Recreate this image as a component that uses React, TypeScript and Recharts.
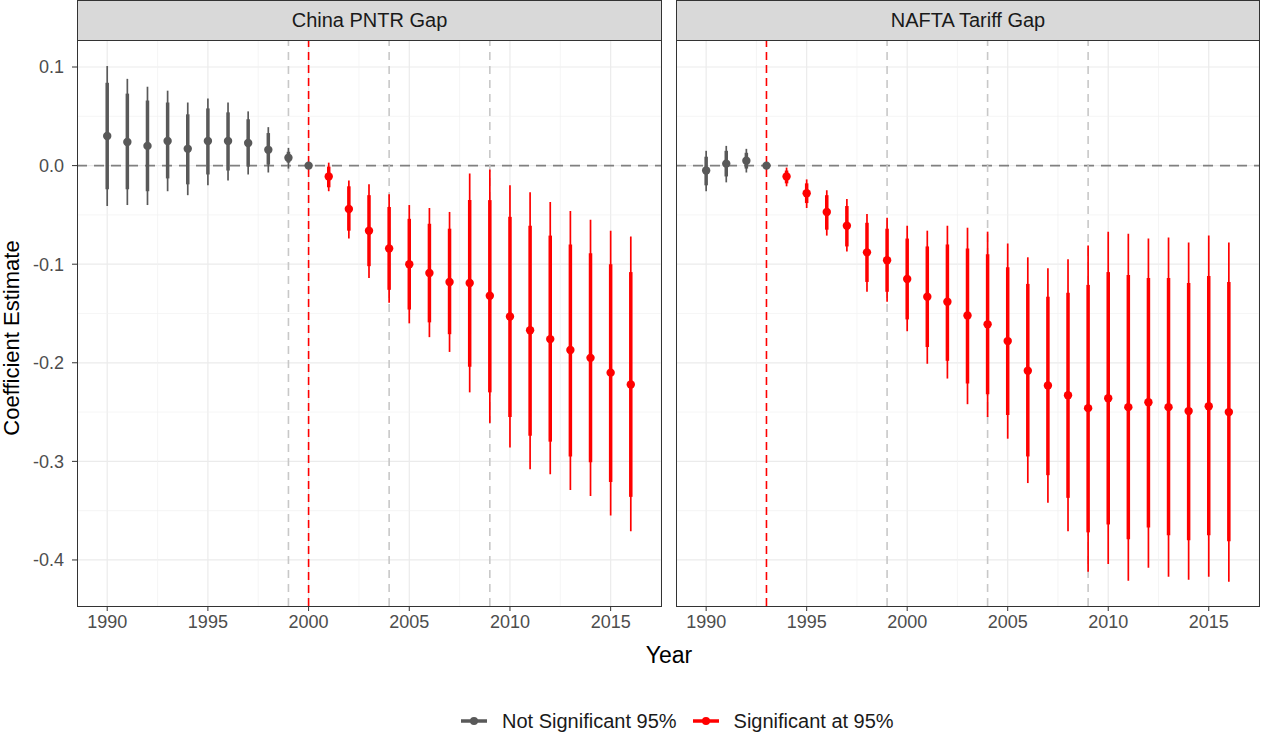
import React from 'react';
import { ScatterChart, Scatter, XAxis, YAxis, CartesianGrid, ReferenceLine, ErrorBar } from 'recharts';

const years = [1990, 1991, 1992, 1993, 1994, 1995, 1996, 1997, 1998, 1999, 2000, 2001, 2002, 2003, 2004, 2005, 2006, 2007, 2008, 2009, 2010, 2011, 2012, 2013, 2014, 2015, 2016];

// China PNTR gap
const chinaEst = [0.030, 0.024, 0.020, 0.025, 0.017, 0.025, 0.025, 0.023, 0.016, 0.008, 0, -0.011, -0.044, -0.066, -0.084, -0.100, -0.109, -0.118, -0.119, -0.132, -0.153, -0.167, -0.176, -0.187, -0.195, -0.210, -0.222];
const chinaLo95 = [-0.041, -0.040, -0.040, -0.026, -0.030, -0.020, -0.015, -0.009, -0.007, -0.003, 0, -0.026, -0.074, -0.114, -0.139, -0.160, -0.174, -0.189, -0.230, -0.261, -0.286, -0.308, -0.313, -0.329, -0.335, -0.355, -0.371];
const chinaHi95 = [0.101, 0.088, 0.080, 0.076, 0.064, 0.068, 0.064, 0.055, 0.039, 0.018, 0, 0.003, -0.015, -0.019, -0.029, -0.040, -0.043, -0.047, -0.008, -0.004, -0.020, -0.027, -0.037, -0.046, -0.055, -0.066, -0.072];
const chinaLo90 = [-0.024, -0.024, -0.026, -0.013, -0.019, -0.009, -0.005, -0.001, 0.001, 0.003, 0, -0.022, -0.066, -0.102, -0.126, -0.146, -0.159, -0.171, -0.204, -0.230, -0.255, -0.274, -0.280, -0.295, -0.301, -0.321, -0.336];
const chinaHi90 = [0.084, 0.073, 0.066, 0.064, 0.052, 0.058, 0.054, 0.047, 0.033, 0.014, 0, -0.001, -0.021, -0.030, -0.042, -0.054, -0.059, -0.064, -0.035, -0.035, -0.052, -0.061, -0.071, -0.080, -0.089, -0.100, -0.108];
const chinaSig = [0, 0, 0, 0, 0, 0, 0, 0, 0, 0, 0, 1, 1, 1, 1, 1, 1, 1, 1, 1, 1, 1, 1, 1, 1, 1, 1];

// NAFTA tariff gap
const naftaEst = [-0.005, 0.002, 0.005, 0, -0.011, -0.028, -0.047, -0.061, -0.088, -0.096, -0.115, -0.133, -0.138, -0.152, -0.161, -0.178, -0.208, -0.223, -0.233, -0.246, -0.236, -0.245, -0.240, -0.245, -0.249, -0.244, -0.250];
const naftaLo95 = [-0.026, -0.017, -0.007, 0, -0.021, -0.043, -0.071, -0.087, -0.128, -0.138, -0.168, -0.201, -0.216, -0.242, -0.255, -0.277, -0.322, -0.342, -0.371, -0.412, -0.404, -0.421, -0.408, -0.417, -0.420, -0.417, -0.422];
const naftaHi95 = [0.015, 0.020, 0.017, 0, -0.002, -0.014, -0.025, -0.034, -0.049, -0.053, -0.061, -0.066, -0.061, -0.063, -0.067, -0.079, -0.093, -0.104, -0.095, -0.081, -0.067, -0.069, -0.074, -0.073, -0.078, -0.071, -0.078];
const naftaLo90 = [-0.020, -0.011, -0.003, 0, -0.018, -0.038, -0.065, -0.082, -0.118, -0.128, -0.156, -0.184, -0.198, -0.221, -0.232, -0.253, -0.295, -0.314, -0.337, -0.372, -0.364, -0.379, -0.367, -0.375, -0.380, -0.375, -0.381];
const naftaHi90 = [0.009, 0.015, 0.013, 0, -0.005, -0.018, -0.030, -0.041, -0.058, -0.064, -0.074, -0.082, -0.080, -0.084, -0.090, -0.103, -0.120, -0.133, -0.129, -0.121, -0.108, -0.111, -0.114, -0.114, -0.119, -0.112, -0.118];
const naftaSig = [0, 0, 0, 0, 1, 1, 1, 1, 1, 1, 1, 1, 1, 1, 1, 1, 1, 1, 1, 1, 1, 1, 1, 1, 1, 1, 1];

const xTicks = [1990, 1995, 2000, 2005, 2010, 2015];
const yTicks = [0.1, 0, -0.1, -0.2, -0.3, -0.4];
const xMinor = [1992.5, 1997.5, 2002.5, 2007.5, 2012.5, 2017.5];
const yMinor = [0.05, -0.05, -0.15, -0.25, -0.35];
const grayEvents = [1999, 2004, 2009];

const GRAY = '#595959';
const RED = '#ff0000';
const FONT = '"Liberation Sans", Arial, Helvetica, sans-serif';

type Row = { year: number; est: number; lo95: number; hi95: number; lo90: number; hi90: number };

function buildRows(est: number[], lo95: number[], hi95: number[], lo90: number[], hi90: number[], sig: number[], want: number): Row[] {
  return years
    .map((year, i) => ({ year, est: est[i], lo95: lo95[i], hi95: hi95[i], lo90: lo90[i], hi90: hi90[i], s: sig[i] }))
    .filter(r => r.s === want)
    .map(({ s, ...r }) => r);
}

const err95 = (d: Row) => [d.est - d.lo95, d.hi95 - d.est];
const err90 = (d: Row) => [d.est - d.lo90, d.hi90 - d.est];

const dot = (color: string) => (props: any) => <circle cx={props.cx} cy={props.cy} r={4.2} fill={color} />;

interface PanelProps {
  title: string;
  left: number;
  width: number;
  showY: boolean;
  redLine: number;
  est: number[]; lo95: number[]; hi95: number[]; lo90: number[]; hi90: number[]; sig: number[];
}

function Panel({ title, left, width, showY, redLine, est, lo95, hi95, lo90, hi90, sig }: PanelProps) {
  const yW = showY ? 77 : 0;
  const plotW = width - yW;
  const notSig = buildRows(est, lo95, hi95, lo90, hi90, sig, 0);
  const isSig = buildRows(est, lo95, hi95, lo90, hi90, sig, 1);
  return (
    <>
      <div style={{
        position: 'absolute', left: left + yW, top: 0, width: plotW + 1, height: 41, boxSizing: 'border-box',
        background: '#d9d9d9', border: '1px solid #333', display: 'flex', alignItems: 'center', justifyContent: 'center',
        fontSize: 20, color: '#1a1a1a',
      }}>{title}</div>
      <div style={{ position: 'absolute', left, top: 40 }}>
        <ScatterChart width={width + 1} height={596} margin={{ top: 0, right: 1, left: 0, bottom: 0 }}>
          <CartesianGrid stroke="#ebebeb" strokeWidth={1.2} verticalValues={xTicks} horizontalValues={yTicks} />
          {xMinor.map(v => <ReferenceLine key={`xm${v}`} x={v} stroke="#f0f0f0" strokeWidth={0.7} />)}
          {yMinor.map(v => <ReferenceLine key={`ym${v}`} y={v} stroke="#f0f0f0" strokeWidth={0.7} />)}
          <XAxis type="number" dataKey="year" domain={[1988.5, 2017.5]} ticks={xTicks} allowDataOverflow
            axisLine={false} tickSize={5} tickMargin={4} height={30} stroke="#333"
            tick={{ fontSize: 18, fill: '#4d4d4d', fontFamily: FONT }} />
          <YAxis type="number" dataKey="est" domain={[-0.4467, 0.1274]} ticks={yTicks} allowDataOverflow
            hide={!showY} width={77} axisLine={false} tickSize={5} tickMargin={8} stroke="#333"
            tickFormatter={(v: number) => v.toFixed(1)}
            tick={{ fontSize: 18, fill: '#4d4d4d', fontFamily: FONT }} />
          <ReferenceLine y={0} stroke="#808080" strokeWidth={1.6} strokeDasharray="10 7" />
          {grayEvents.map(v => <ReferenceLine key={`ev${v}`} x={v} stroke="#c8c8c8" strokeWidth={1.6} strokeDasharray="8 6" />)}
          <ReferenceLine x={redLine} stroke={RED} strokeWidth={1.6} strokeDasharray="8 5" />
          <Scatter data={notSig} fill={GRAY} shape={dot(GRAY)} isAnimationActive={false}>
            <ErrorBar dataKey={err95} direction="y" width={0} stroke={GRAY} strokeWidth={1.7} />
            <ErrorBar dataKey={err90} direction="y" width={0} stroke={GRAY} strokeWidth={3.5} />
          </Scatter>
          <Scatter data={isSig} fill={RED} shape={dot(RED)} isAnimationActive={false}>
            <ErrorBar dataKey={err95} direction="y" width={0} stroke={RED} strokeWidth={1.7} />
            <ErrorBar dataKey={err90} direction="y" width={0} stroke={RED} strokeWidth={3.5} />
          </Scatter>
        </ScatterChart>
      </div>
      <div style={{
        position: 'absolute', left: left + yW, top: 40, width: plotW + 1, height: 567, boxSizing: 'border-box',
        border: '1px solid #333', pointerEvents: 'none',
      }} />
    </>
  );
}

function LegendKey({ color }: { color: string }) {
  return (
    <svg width={26} height={14} style={{ marginRight: 15 }}>
      <line x1={0} y1={7} x2={26} y2={7} stroke={color} strokeWidth={3.5} />
      <circle cx={13} cy={7} r={4} fill={color} />
    </svg>
  );
}

export default function App() {
  return (
    <div style={{ position: 'absolute', left: 0, top: 0, width: 1262, height: 734, background: '#fff', fontFamily: FONT, overflow: 'hidden' }}>
      <Panel title="China PNTR Gap" left={0} width={661} showY redLine={2000}
        est={chinaEst} lo95={chinaLo95} hi95={chinaHi95} lo90={chinaLo90} hi90={chinaHi90} sig={chinaSig} />
      <Panel title="NAFTA Tariff Gap" left={676} width={583} showY={false} redLine={1993}
        est={naftaEst} lo95={naftaLo95} hi95={naftaHi95} lo90={naftaLo90} hi90={naftaHi90} sig={naftaSig} />
      <div style={{
        position: 'absolute', left: 12, top: 338, transform: 'translate(-50%, -50%) rotate(-90deg)',
        fontSize: 22, color: '#000', whiteSpace: 'nowrap',
      }}>Coefficient Estimate</div>
      <div style={{ position: 'absolute', left: 669, top: 655, transform: 'translate(-50%, -50%)', fontSize: 23, color: '#000' }}>Year</div>
      <div style={{
        position: 'absolute', left: 461, top: 709, height: 24, display: 'flex', alignItems: 'center',
        fontSize: 20, color: '#1a1a1a', whiteSpace: 'nowrap',
      }}>
        <LegendKey color={GRAY} />
        <span style={{ marginRight: 16 }}>Not Significant 95%</span>
        <LegendKey color={RED} />
        <span>Significant at 95%</span>
      </div>
    </div>
  );
}
